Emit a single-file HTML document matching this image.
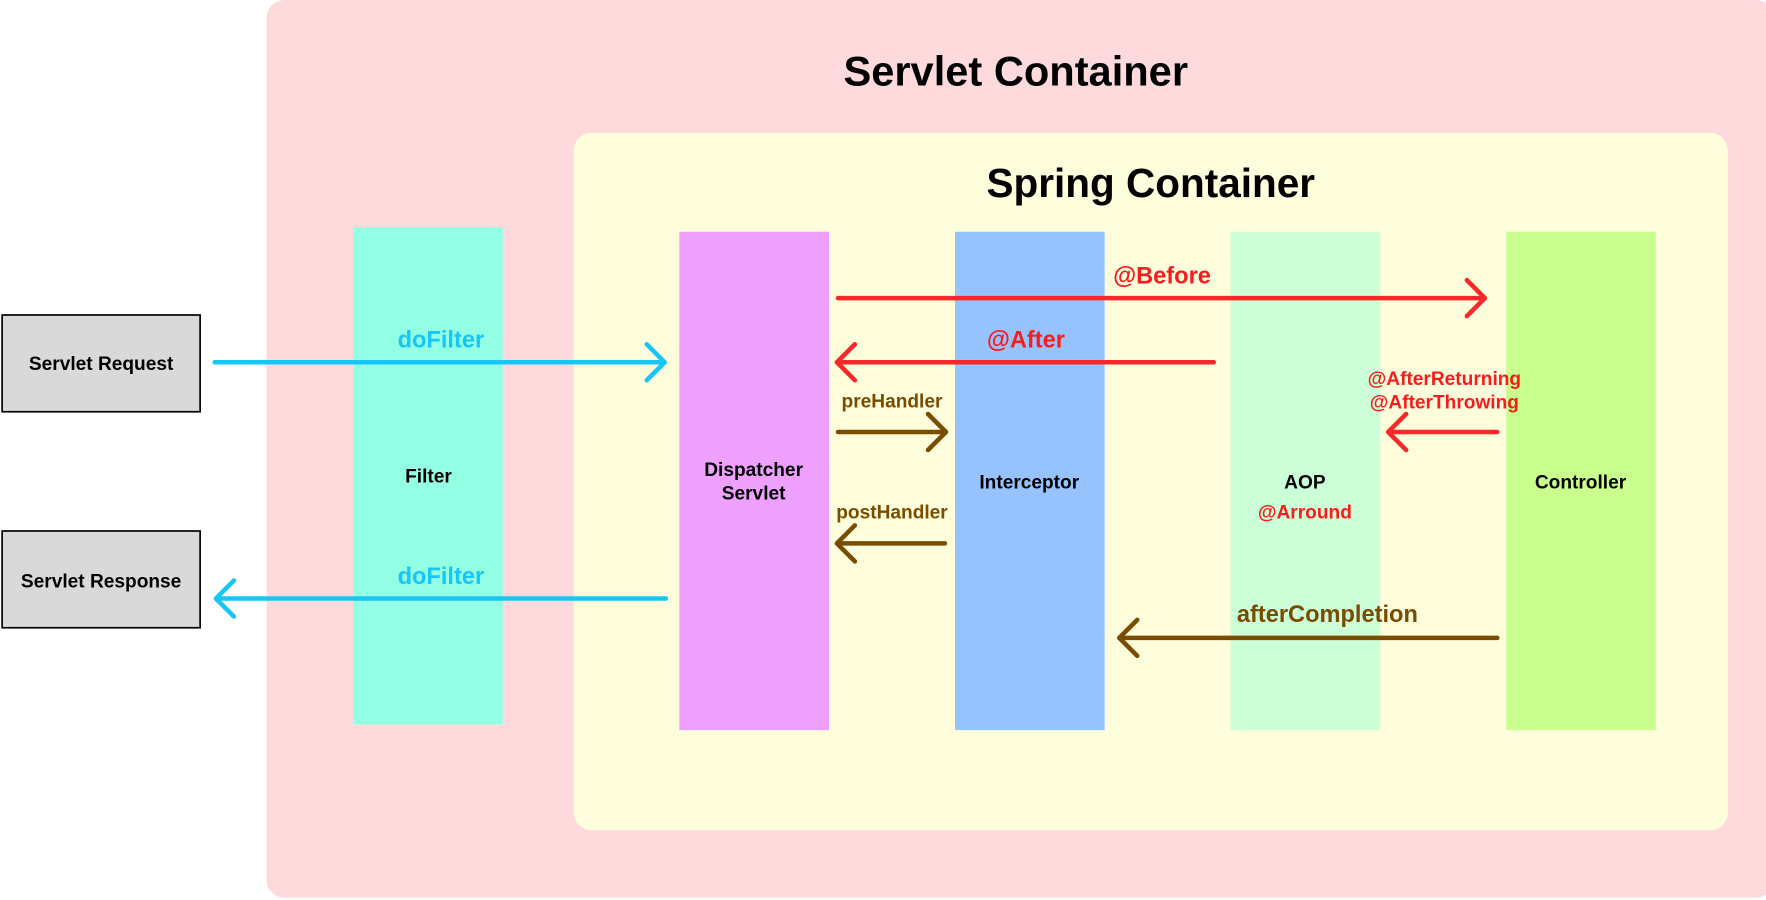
<!DOCTYPE html>
<html><head><meta charset="utf-8"><style>
html,body{margin:0;padding:0;background:#fff;width:1766px;height:900px;overflow:hidden}
text{font-family:"Liberation Sans",sans-serif;font-weight:bold;text-anchor:middle}
</style></head><body>
<svg width="1766" height="900" viewBox="0 0 1568 800" xmlns="http://www.w3.org/2000/svg">
<rect x="0" y="0" width="1568" height="800" fill="#fff"/>
<rect x="236" y="0" width="1340" height="798" rx="16" fill="#fedadd"/>
<text x="902" y="76" font-size="37" fill="#000">Servlet Container</text>
<rect x="509" y="118" width="1026" height="620" rx="16" fill="#fefddc"/>
<text x="1022" y="175" font-size="36" fill="#000">Spring Container</text>
<rect x="313" y="202" width="133" height="442" fill="#93ffe5"/>
<rect x="603" y="206" width="133" height="443" fill="#eea0fe"/>
<rect x="848" y="206" width="133" height="443" fill="#96c3fe"/>
<rect x="1093" y="206" width="133" height="443" fill="#ccfed7"/>
<rect x="1338" y="206" width="133" height="443" fill="#c9fe8f"/>
<rect x="1" y="280" width="176" height="86" fill="#d9d9d9" stroke="#000" stroke-width="1.5"/>
<rect x="1" y="472" width="176" height="86" fill="#d9d9d9" stroke="#000" stroke-width="1.5"/>
<g font-size="17" fill="#000">
<text x="89" y="329">Servlet Request</text>
<text x="89" y="522">Servlet Response</text>
<text x="380" y="429">Filter</text>
<text x="669" y="423">Dispatcher</text>
<text x="669" y="444">Servlet</text>
<text x="914" y="434">Interceptor</text>
<text x="1159" y="434">AOP</text>
<text x="1404" y="434">Controller</text>
</g>
<g fill="none" stroke-width="4" stroke-linecap="round" stroke-linejoin="round">
<g stroke="#17c6f5">
<path d="M190 322H590M574 306L590 322L574 338"/>
<path d="M591 532H191M207 516L191 532L207 548"/>
</g>
<g stroke="#f5282a">
<path d="M744 265H1319M1303 249L1319 265L1303 281"/>
<path d="M1078 322H743M759 306L743 322L759 338"/>
<path d="M1330 384H1233M1249 368L1233 384L1249 400"/>
</g>
<g stroke="#7a4c00">
<path d="M744 384H840M824 368L840 384L824 400"/>
<path d="M839 483H743M759 467L743 483L759 499"/>
<path d="M1330 567H994M1010 551L994 567L1010 583"/>
</g>
</g>
<g fill="#17c6f5" font-size="21"><text x="391" y="309">doFilter</text><text x="391" y="519">doFilter</text></g>
<g fill="#f81c1e">
<text x="1032" y="252" font-size="21">@Before</text>
<text x="911" y="309" font-size="21">@After</text>
<text x="1283" y="342" font-size="17">@AfterReturning</text>
<text x="1283" y="363" font-size="17">@AfterThrowing</text>
<text x="1159" y="461" font-size="17">@Arround</text>
</g>
<g fill="#7a4c00">
<text x="792" y="362" font-size="17">preHandler</text>
<text x="792" y="461" font-size="17">postHandler</text>
<text x="1179" y="553" font-size="21">afterCompletion</text>
</g>
</svg>
</body></html>
